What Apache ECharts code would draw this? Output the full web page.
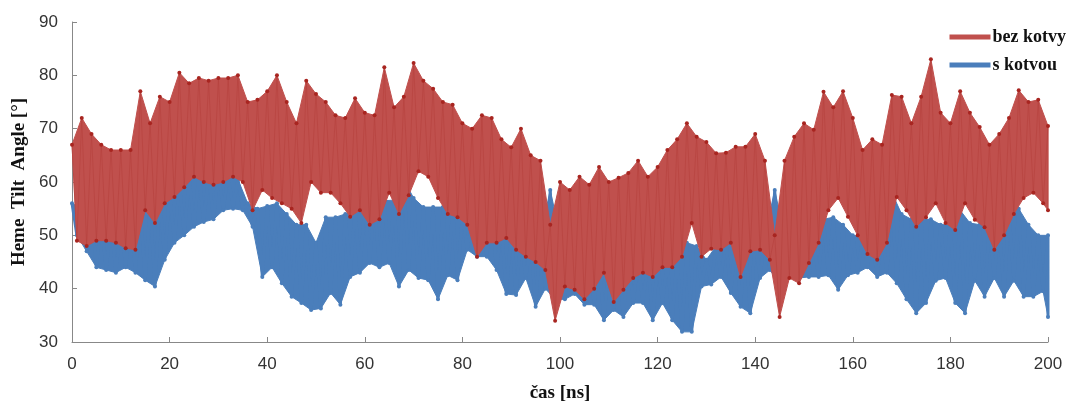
<!DOCTYPE html>
<html>
<head>
<meta charset="utf-8">
<script src="https://cdn.jsdelivr.net/npm/echarts@6/dist/echarts.min.js"></script>
<style>
  html, body { margin: 0; padding: 0; background: #fff; }
  #char { width: 1072px; height: 403px; }
</style>
</head>
<body>
<div id="char"></div>
<script>
// time axis [ns], every 2 ns from 0 to 200
const times = [];
for (let i = 0; i <= 100; i++) times.push(i * 2);

// "bez kotvy" - upper / lower envelope of the trace
const redHigh = [
  67, 72, 69, 67, 66, 66, 66, 77, 71, 76,
  75, 80.5, 78.5, 79.5, 79, 79.5, 79.5, 80, 75, 75.4,
  77, 80, 75, 71, 79, 76.5, 75, 72.5, 72, 75.7,
  73, 72.5, 81.5, 74, 76, 82.3, 79, 77.5, 75, 74.5,
  71, 70, 72.5, 72, 68, 66.5, 70, 65, 64, 52,
  60, 58.5, 61, 59.5, 62.8, 60, 60.8, 61.7, 64, 61,
  62.8, 66, 68, 71, 68.5, 67.5, 65.4, 65.5, 66.6, 66.6,
  69, 64, 50, 64, 68.5, 71, 69.8, 76.9, 74, 77,
  72, 66, 68, 67, 76.3, 76, 71, 76, 83, 73,
  71, 77, 73, 70.3, 67, 69, 72, 77.2, 75, 75.4,
  70.5
];
const redLow = [
  49, 48, 49, 49, 48.6, 47.6, 47.3, 54.7, 52.3, 56,
  57.2, 59, 61, 60, 59.5, 60, 61, 60, 54.7, 58.5,
  57, 56, 55, 52.3, 60, 58, 58, 56, 53.5, 54.7,
  52, 53, 58, 54, 57.5, 62, 61, 57, 54, 53.4,
  52, 46, 48.6, 48.6, 49.5, 47.3, 46, 45, 43.5, 34,
  40.4, 39.8, 38, 40, 43, 37.5, 39.8, 42, 43, 42.2,
  44, 44, 46, 52.3, 46, 47.5, 47.3, 48.6, 42.2, 47,
  47.3, 45.4, 34.7, 42, 41, 44.8, 48.6, 54.7, 57, 53.5,
  50, 46.5, 45.4, 48.6, 57.2, 54.7, 51.6, 53.4, 56, 52.3,
  51, 56, 52.9, 51.5, 47.3, 50, 54, 57, 58, 56,
  54.7
];

// "s kotvou"
const blueHigh = [
  56, 55, 54, 53, 52, 52, 53, 55, 56, 57,
  58, 60, 61, 61.5, 61.5, 62, 61.5, 60.5, 56, 55,
  55.5, 56, 54, 52, 52, 48.6, 53.4, 53.4, 54, 55,
  56, 56, 56.5, 56.6, 60.4, 57, 55.3, 55.3, 55.3, 55,
  54, 53, 54, 54.7, 51.6, 51, 49.5, 49, 50, 58.5,
  50, 48, 47, 46, 45, 45, 45, 46, 45, 45,
  45, 45, 46, 48.6, 48, 45.4, 48, 49, 49, 49,
  49, 50, 58.5, 50, 49, 48.6, 48.6, 53, 53.4, 52,
  50, 49.7, 49, 50, 58, 54, 53, 53, 53, 52,
  52, 54.7, 52.3, 52, 52, 52.5, 54.7, 55, 52, 50,
  50
];
const blueLow = [
  50, 47, 44, 43.5, 43, 44, 43, 41.6, 40.4, 45.4,
  48.6, 50, 51.6, 52.5, 53, 54.7, 55, 54.7, 51.6, 42.2,
  44, 41, 38.5, 37.3, 36, 36.3, 39.2, 37, 42.2, 43,
  44.8, 44, 44.8, 40.4, 43.5, 42, 41.6, 38, 42.5, 41.6,
  47.3, 46, 46, 43.5, 39, 38.8, 42, 36.6, 40, 38,
  38, 39, 37, 37, 34.1, 36, 34.7, 37.3, 37.3, 34.1,
  37.3, 34.1, 31.9, 31.9, 40.4, 40.8, 42.2, 39.2, 36.6, 35.4,
  42, 43.5, 41, 42.2, 42, 42.2, 42.2, 42.5, 39.8, 42.5,
  43, 44, 42.2, 43, 41, 38, 35.4, 37.3, 41.5, 42,
  37.3, 35.4, 41.5, 38.5, 42, 38.5, 41.5, 38.5, 38.5, 39.5,
  34.7
];

const yTicks = { min: 30, max: 90, interval: 10 };
const xTicks = { min: 0, max: 200, interval: 20 };

// zig-zag between the envelopes, gives the dense trace look
function zigzag(high, low) {
  const out = [];
  times.forEach((t, i) => {
    out.push([t, high[i]]);
    out.push([Math.min(t + 1, 200), low[i]]);
  });
  return out;
}

const RED = "#c0504d";
const BLUE = "#4a7ebb";

// filled band between the envelopes (polygon through the axis scales)
function bandSeries(high, low, color, z) {
  return {
    type: "custom",
    coordinateSystem: "cartesian2d",
    silent: true,
    z: z,
    data: [[times[0], low[0]]],
    renderItem: function(params, api) {
      var pts = [];
      for (var i = 0; i < times.length; i++) {
        pts.push(api.coord([times[i], high[i]]));
      }
      for (var j = times.length - 1; j >= 0; j--) {
        pts.push(api.coord([Math.min(times[j] + 1, 200), low[j]]));
      }
      return {
        type: "polygon",
        shape: { points: pts },
        style: { fill: color, stroke: color, lineWidth: 1 }
      };
    }
  };
}

const option = {
  animation: false,
  backgroundColor: "#fff",
  grid: { left: 72, right: 24, top: 22, bottom: 61, outerBoundsMode: "none", containLabel: false },
  legend: {
    data: [
      { name: "bez kotvy", itemStyle: { color: RED } },
      { name: "s kotvou", itemStyle: { color: BLUE } }
    ],
    orient: "vertical",
    right: 1,
    top: 23,
    itemGap: 10,
    itemWidth: 41,
    itemHeight: 5,
    icon: "rect",
    textStyle: {
      fontFamily: "Liberation Serif",
      fontWeight: "bold",
      fontSize: 18,
      color: "#111",
      padding: [0, 0, 0, -3]
    }
  },
  xAxis: {
    type: "value",
    min: xTicks.min,
    max: xTicks.max,
    interval: xTicks.interval,
    name: "čas [ns]",
    nameLocation: "middle",
    nameGap: 42,
    nameTextStyle: {
      fontFamily: "Liberation Serif",
      fontWeight: "bold",
      fontSize: 19,
      color: "#111"
    },
    axisLine: { lineStyle: { color: "#888", width: 1 } },
    axisTick: { inside: true, length: 5, lineStyle: { color: "#888" } },
    axisLabel: {
      margin: 14,
      fontFamily: "Liberation Sans",
      fontSize: 17,
      color: "#333"
    },
    splitLine: { show: false }
  },
  yAxis: {
    type: "value",
    min: yTicks.min,
    max: yTicks.max,
    interval: yTicks.interval,
    name: "Heme  Tilt  Angle [°]",
    nameLocation: "middle",
    nameGap: 38,
    nameTextStyle: {
      fontFamily: "Liberation Serif",
      fontWeight: "bold",
      fontSize: 19,
      color: "#111"
    },
    axisLine: { show: true, lineStyle: { color: "#888", width: 1 } },
    axisTick: { show: true, inside: true, length: 5, lineStyle: { color: "#888" } },
    axisLabel: {
      margin: 14,
      fontFamily: "Liberation Sans",
      fontSize: 17,
      color: "#333"
    },
    splitLine: { show: false }
  },
  series: [
    bandSeries(blueHigh, blueLow, BLUE, 1),
    {
      name: "s kotvou",
      type: "line",
      z: 2,
      data: zigzag(blueHigh, blueLow),
      showSymbol: true,
      symbol: "circle",
      symbolSize: 4,
      itemStyle: { color: BLUE },
      lineStyle: { width: 3, color: BLUE }
    },
    bandSeries(redHigh, redLow, RED, 3),
    {
      name: "bez kotvy",
      type: "line",
      z: 4,
      data: zigzag(redHigh, redLow),
      showSymbol: true,
      symbol: "circle",
      symbolSize: 4,
      itemStyle: { color: "#a82520" },
      lineStyle: { width: 1, color: "#b43d39", opacity: 0.5 }
    }
  ]
};

const myChart = echarts.init(document.getElementById("char"));
myChart.setOption(option);
</script>
</body>
</html>
